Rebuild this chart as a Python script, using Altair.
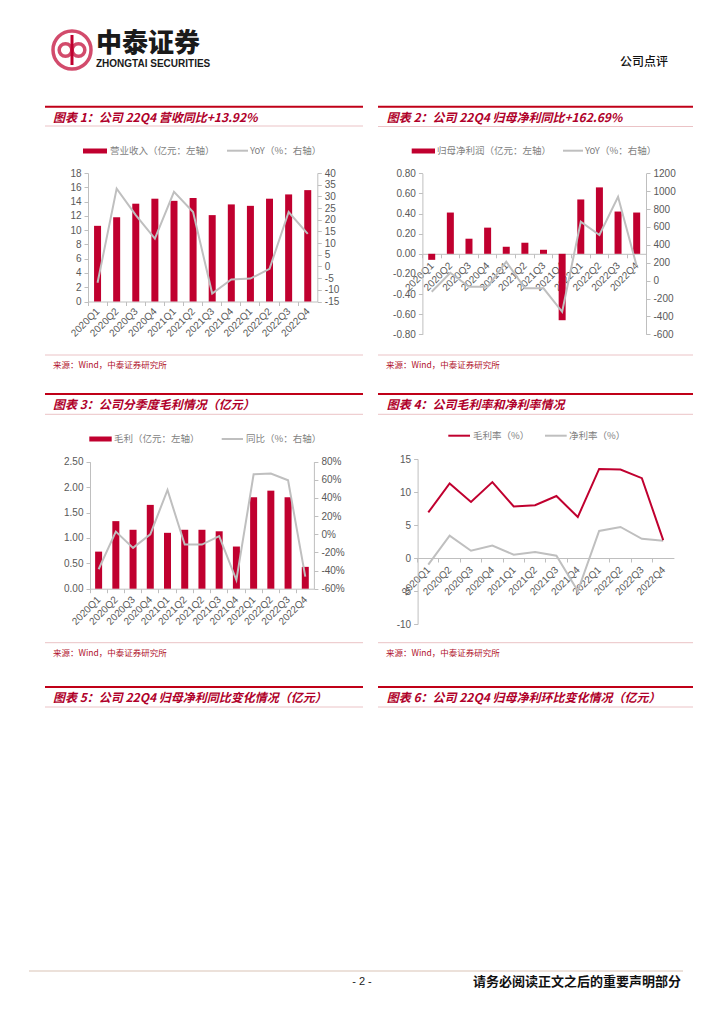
import altair as alt
import pandas as pd

# ---------------- data ----------------
quarters = ["2020Q1", "2020Q2", "2020Q3", "2020Q4", "2021Q1", "2021Q2",
            "2021Q3", "2021Q4", "2022Q1", "2022Q2", "2022Q3", "2022Q4"]
revenue = [10.6, 11.8, 13.7, 14.4, 14.1, 14.5, 12.1, 13.6, 13.4, 14.4, 15.0, 15.6]
revenue_yoy = [-7.0, 33.3, 22.0, 11.9, 31.9, 23.3, -11.6, -5.6, -5.2, -1.0, 23.3, 13.92]
profit = [-0.06, 0.41, 0.15, 0.26, 0.07, 0.11, 0.04, -0.66, 0.54, 0.66, 0.42, 0.41]
profit_yoy = [-124, 88, -68, -68, 211, -86, -86, -348, 659, 510, 938, 162.69]
gp_labels = ["2020Q1", "2020Q2", "2020Q3", "2020Q4", "2021Q1", "2021Q2", "2021Q2",
             "2021Q3", "2021Q4", "2022Q1", "2022Q2", "2022Q3", "2022Q4"]
gross_profit = [0.73, 1.33, 1.16, 1.65, 1.10, 1.16, 1.16, 1.13, 0.83, 1.80, 1.93, 1.80, 0.43]
gross_profit_yoy = [-38.6, 2.9, -15.0, 0.0, 48.8, -11.4, -11.4, -2.0, -50.4, 66.1, 67.0, 59.6, -46.7]
gross_margin = [6.9, 11.3, 8.5, 11.5, 7.8, 8.0, 9.4, 6.2, 13.5, 13.4, 12.1, 2.7]
net_margin = [-1.0, 3.4, 1.1, 1.9, 0.5, 0.9, 0.35, -5.0, 4.1, 4.7, 2.9, 2.6]

titles = ["图表 1：公司 22Q4 营收同比+13.92%",
          "图表 2：公司 22Q4 归母净利同比+162.69%",
          "图表 3：公司分季度毛利情况（亿元）",
          "图表 4：公司毛利率和净利率情况",
          "图表 5：公司 22Q4 归母净利同比变化情况（亿元）",
          "图表 6：公司 22Q4 归母净利环比变化情况（亿元）"]
source = "来源：Wind，中泰证券研究所"

# ---------------- styles ----------------
W, H = 708, 1008
RED = "#C0002F"
TRED = "#B0002A"
RULE = "#C00018"
PINK = "#EBC3C6"
GRAY = "#BFBFBF"
CJK = "Noto Sans CJK SC"
LAT = "Liberation Sans"

AX = dict(domainColor="#BFBFBF", tickColor="#BFBFBF", labelColor="#595959",
          labelFont=LAT, labelFontSize=10, title=None, grid=False)

INT_EXPR = "toString(datum.value)"
F2_EXPR = "replace(format(datum.value, '.2f'), '\u2212', '-')"
PCT_EXPR = "toString(datum.value) + '%'"


def tick_axis(y):
    return alt.Axis(orient="bottom", offset=y - H, labels=False, ticks=True, tickSize=4,
                    bandPosition=0, domain=True, **AX)


def label_axis(y, pad, expr=None):
    kw = dict(orient="bottom", offset=y - H, domain=False, ticks=False, tickSize=0,
              labelAngle=315, labelAlign="right", labelBaseline="middle",
              labelPadding=pad, labelOverlap=False, **AX)
    if expr:
        kw["labelExpr"] = expr
    return alt.Axis(**kw)


def y_axis(orient, xpos, values, expr=INT_EXPR):
    off = -xpos if orient == "left" else xpos - W
    return alt.Axis(orient=orient, offset=off, values=values, tickSize=4, labelPadding=3,
                    domain=True, ticks=True, labelExpr=expr, **AX)


def band_x(field, domain, rng, axis):
    return alt.X(f"{field}:N", sort=None, axis=axis,
                 scale=alt.Scale(type="band", domain=domain, range=rng,
                                 paddingInner=0, paddingOuter=0))


def point_x(field, domain, rng, axis):
    return alt.X(f"{field}:N", sort=None, axis=axis,
                 scale=alt.Scale(type="point", domain=domain, range=rng, padding=0.5))


def yq(field, domain, rng, axis):
    return alt.Y(f"{field}:Q", axis=axis,
                 scale=alt.Scale(domain=domain, range=rng, nice=False, zero=False))


def text_layer(rows, **mk):
    df = pd.DataFrame(rows, columns=["x", "y", "t"])
    return alt.Chart(df).mark_text(**mk).encode(
        x=alt.X("x:Q", scale=None, axis=None),
        y=alt.Y("y:Q", scale=None, axis=None),
        text="t:N")


def hrule_layer(rows, **mk):
    df = pd.DataFrame(rows, columns=["x", "x2", "y"])
    return alt.Chart(df).mark_rule(**mk).encode(
        x=alt.X("x:Q", scale=None, axis=None), x2="x2:Q",
        y=alt.Y("y:Q", scale=None, axis=None))


def rect_layer(rows, **mk):
    df = pd.DataFrame(rows, columns=["x", "x2", "y", "y2"])
    return alt.Chart(df).mark_rect(**mk).encode(
        x=alt.X("x:Q", scale=None, axis=None), x2="x2:Q",
        y=alt.Y("y:Q", scale=None, axis=None), y2="y2:Q")


layers = []

# ---------------- chart 1 ----------------
df1 = pd.DataFrame({"q": quarters, "v": revenue, "yoy": revenue_yoy,
                    "i": list(range(len(quarters)))})
R1x, R1y = [80, 309.3], [293.5, 165]
layers.append(alt.Chart(df1).mark_bar(size=7, color=RED).encode(
    x=band_x("q", quarters, R1x, tick_axis(293.5)),
    y=yq("v", [0, 18], R1y, y_axis("left", 80, list(range(0, 19, 2))))))
layers.append(alt.Chart(df1).mark_line(color=GRAY, strokeWidth=2).encode(
    x=point_x("q", quarters, R1x, label_axis(293.5, 8)),
    y=yq("yoy", [-15, 40], R1y, y_axis("right", 309.3, list(range(-15, 41, 5)))),
    order="i:Q"))

# ---------------- chart 2 ----------------
df2 = pd.DataFrame({"q": quarters, "v": profit, "yoy": profit_yoy,
                    "i": list(range(len(quarters)))})
R2x, R2y = [414.4, 638], [326.3, 165.3]
layers.append(alt.Chart(df2).mark_bar(size=7, color=RED).encode(
    x=band_x("q", quarters, R2x, tick_axis(245.8)),
    y=yq("v", [-0.8, 0.8], R2y,
         y_axis("left", 414.4, [-0.8, -0.6, -0.4, -0.2, 0, 0.2, 0.4, 0.6, 0.8], F2_EXPR))))
layers.append(alt.Chart(df2).mark_line(color=GRAY, strokeWidth=2).encode(
    x=point_x("q", quarters, R2x, label_axis(245.8, 10)),
    y=yq("yoy", [-600, 1200], R2y, y_axis("right", 638, list(range(-600, 1201, 200)))),
    order="i:Q"))

# ---------------- chart 3 ----------------
keys3 = [f"{i:02d}" for i in range(len(gp_labels))]
lab_expr = "[" + ",".join(f"'{s}'" for s in gp_labels) + "][toNumber(datum.value)]"
df3 = pd.DataFrame({"k": keys3, "v": gross_profit, "yoy": gross_profit_yoy,
                    "i": list(range(len(gp_labels)))})
R3x, R3y = [82, 305.9], [580.7, 453.7]
layers.append(alt.Chart(df3).mark_bar(size=7, color=RED).encode(
    x=band_x("k", keys3, R3x, tick_axis(580.7)),
    y=yq("v", [0, 2.5], R3y, y_axis("left", 82, [0, 0.5, 1.0, 1.5, 2.0, 2.5], F2_EXPR))))
layers.append(alt.Chart(df3).mark_line(color=GRAY, strokeWidth=2).encode(
    x=point_x("k", keys3, R3x, label_axis(580.7, 9, lab_expr)),
    y=yq("yoy", [-60, 80], R3y,
         y_axis("right", 305.9, list(range(-60, 81, 20)), PCT_EXPR)),
    order="i:Q"))

# ---------------- chart 4 ----------------
df4 = pd.DataFrame({"q": quarters, "gm": gross_margin, "nm": net_margin,
                    "i": list(range(len(quarters)))})
R4x, R4y = [409.6, 665.9], [616, 451]
layers.append(alt.Chart(df4).mark_line(color=GRAY, strokeWidth=2).encode(
    x=point_x("q", quarters, R4x, label_axis(550, 10)),
    y=yq("nm", [-10, 15], R4y, None),
    order="i:Q"))
layers.append(alt.Chart(df4).mark_line(color=RED, strokeWidth=2).encode(
    x=alt.X("q:N", sort=None, bandPosition=0.5, axis=tick_axis(550),
            scale=alt.Scale(type="band", domain=quarters, range=R4x,
                            paddingInner=0, paddingOuter=0)),
    y=yq("gm", [-10, 15], R4y, y_axis("left", 409.6, list(range(-10, 16, 5)))),
    order="i:Q"))

# ---------------- page decoration ----------------
# header logo
logo = pd.DataFrame({"x": [64, 57.5, 70.5], "y": [42, 42, 42], "s": [1444, 160, 160]})
layers.append(alt.Chart(logo).mark_point(filled=False, shape="circle", color=RED,
                                         strokeWidth=3.5).encode(
    x=alt.X("x:Q", scale=None, axis=None), y=alt.Y("y:Q", scale=None, axis=None),
    size=alt.Size("s:Q", scale=None, legend=None)))
layers.append(alt.Chart(pd.DataFrame({"x": [64], "y": [27], "y2": [57]})).mark_rule(
    color=RED, strokeWidth=3).encode(
    x=alt.X("x:Q", scale=None, axis=None), y=alt.Y("y:Q", scale=None, axis=None), y2="y2:Q"))
layers.append(text_layer([(88, 35.5, "中泰证券")], font=CJK, fontSize=26, fontWeight=900,
                         color="#1a1a1a", align="left", baseline="middle"))
layers.append(text_layer([(88, 56, "ZHONGTAI SECURITIES")], font=LAT, fontSize=10,
                         fontWeight="bold", color="#1a1a1a", align="left", baseline="middle"))
layers.append(text_layer([(612, 54, "公司点评")], font=CJK, fontSize=12, fontWeight=500,
                         color="#111111", align="left", baseline="middle"))

# panel rules
L, LR = (37, 355), (370, 685)
layers.append(hrule_layer([(L[0], L[1], 98.7), (LR[0], LR[1], 98.7),
                           (L[0], L[1], 386), (LR[0], LR[1], 386),
                           (L[0], L[1], 679), (LR[0], LR[1], 679)],
                          color=RULE, strokeWidth=2))
layers.append(hrule_layer([(L[0], L[1], 118), (LR[0], LR[1], 118.5),
                           (L[0], L[1], 406.3), (LR[0], LR[1], 406.3),
                           (L[0], L[1], 699), (LR[0], LR[1], 699),
                           (L[0], L[1], 347), (LR[0], LR[1], 347),
                           (L[0], L[1], 634.7), (LR[0], LR[1], 634.7)],
                          color=PINK, strokeWidth=1))

# titles
layers.append(text_layer([(45, 110, titles[0]), (378.7, 110, titles[1]),
                          (45, 397, titles[2]), (378.7, 397, titles[3]),
                          (45, 690, titles[4]), (378.7, 690, titles[5])],
                         font=CJK, fontSize=12, fontWeight="bold", fontStyle="italic",
                         color=TRED, align="left", baseline="middle"))
# sources
layers.append(text_layer([(45, 357, source), (378, 357, source),
                          (45, 644.7, source), (378, 644.7, source)],
                         font=CJK, fontSize=8.5, color="#B0102A", align="left",
                         baseline="middle"))

# legends
layers.append(rect_layer([(75, 99, 140.5, 145.5), (403.7, 427, 140.5, 145.5),
                          (81.3, 103.7, 428.5, 433.5)], color=RED))
layers.append(hrule_layer([(219, 240, 142.7), (555, 575, 142.7), (213.7, 235, 431),
                           (537, 558.7, 427.7)], color=GRAY, strokeWidth=2))
layers.append(hrule_layer([(440.3, 462, 427.7)], color=RED, strokeWidth=2))
layers.append(text_layer([(102, 142.7, "营业收入（亿元：左轴）"), (242, 142.7, "YoY（%：右轴）"),
                          (429, 142.7, "归母净利润（亿元：左轴）"), (577, 142.7, "YoY（%：右轴）"),
                          (106, 431, "毛利（亿元：左轴）"), (238, 431, "同比（%：右轴）"),
                          (465, 427.7, "毛利率（%）"), (561, 427.7, "净利率（%）")],
                         font=CJK, fontSize=9.5, color="#7F7F7F", align="left",
                         baseline="middle"))

# footer
layers.append(hrule_layer([(21, 675, 963)], color="#D9C3B5", strokeWidth=1))
layers.append(text_layer([(354, 974, "- 2 -")], font=LAT, fontSize=11, color="#222222",
                         align="center", baseline="middle"))
layers.append(text_layer([(465, 974, "请务必阅读正文之后的重要声明部分")], font=CJK,
                         fontSize=13, fontWeight="bold", color="#111111", align="left",
                         baseline="middle"))

chart = alt.layer(*layers).resolve_scale(x="independent", y="independent").properties(
    width=W, height=H, padding=0, autosize="none").configure_view(stroke=None)

chart.save("out.html", embed_options={"renderer": "svg", "actions": False})
